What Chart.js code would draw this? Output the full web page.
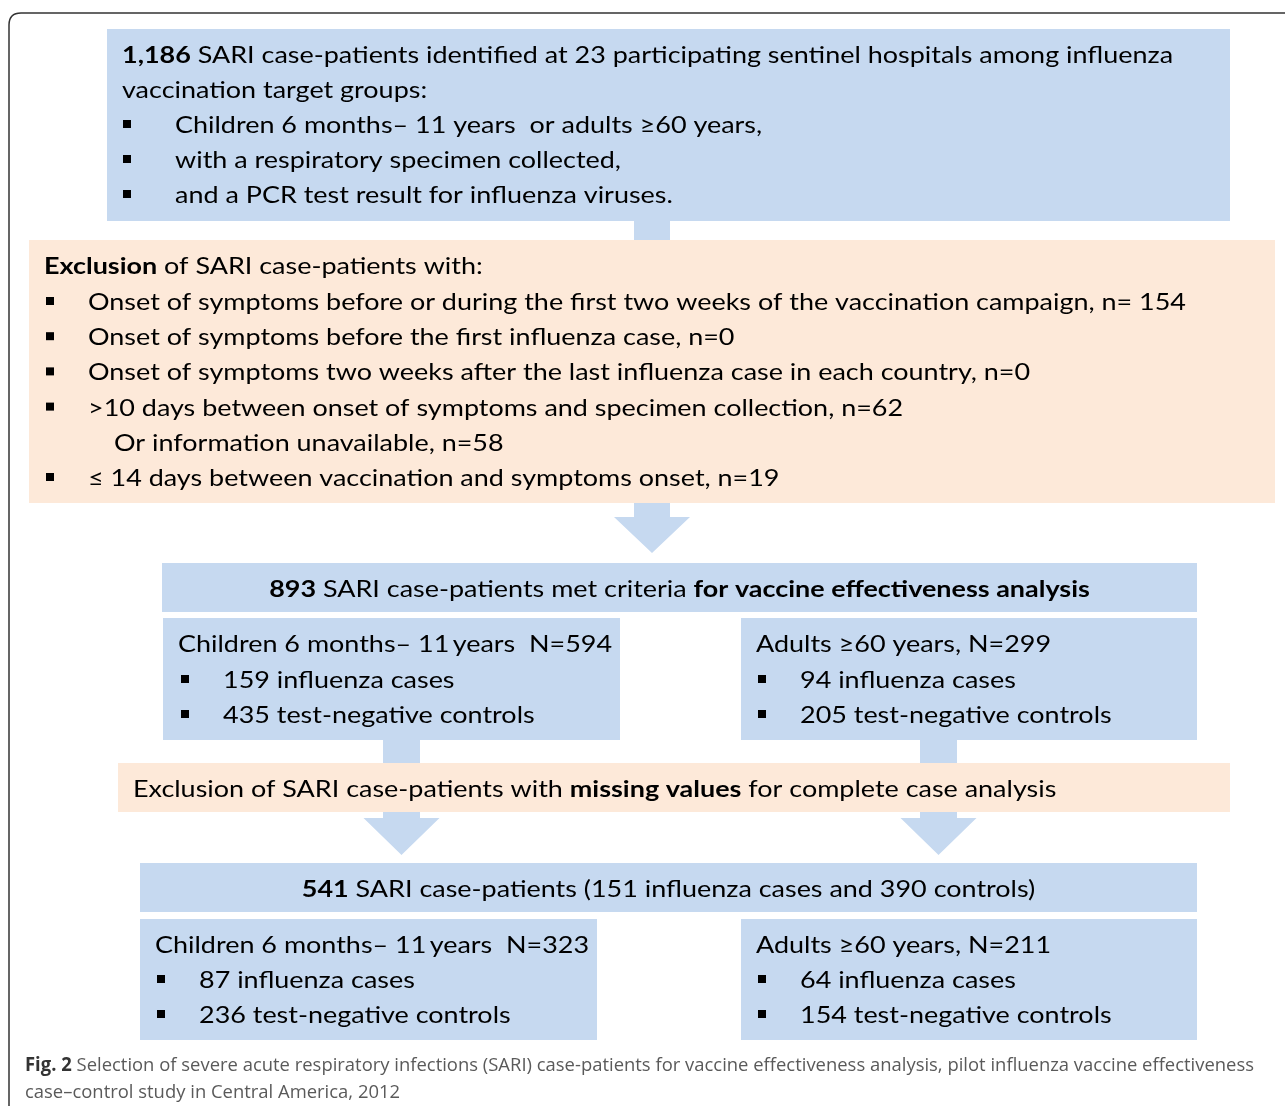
<!DOCTYPE html>
<html>
<head>
<meta charset="utf-8">
<script src="https://cdn.jsdelivr.net/npm/chart.js@4.4.1/dist/chart.umd.min.js"></script>
<style>
  html, body { margin: 0; padding: 0; background: #fff; }
  #wrap { width: 1285px; height: 1106px; position: relative; }
</style>
</head>
<body>
<div id="wrap"><canvas id="flow"></canvas></div>
<script>
// counts shown in the flow diagram
const identifiedTotal = 1186;
const hospitalCount = 23;
const targetGroups = ['Children 6 months– 11 years  or adults ≥60 years,', 'with a respiratory specimen collected,', 'and a PCR test result for influenza viruses.'];
const exclusionReasons = [
    'Onset of symptoms before or during the first two weeks of the vaccination campaign, n= ',
    'Onset of symptoms before the first influenza case, n=',
    'Onset of symptoms two weeks after the last influenza case in each country, n=',
    '>10 days between onset of symptoms and specimen collection, n=',
    'Or information unavailable, n=',
    '≤ 14 days between vaccination and symptoms onset, n='
];
const exclusionCounts = [154, 0, 0, 62, 58, 19];
const eligibleTotal = 893;
const groupLabels = ['Children 6 months– 11\u2009years  N=', 'Adults ≥60 years, N='];
const eligibleN = [594, 299];
const eligibleCases = [159, 94];
const eligibleControls = [435, 205];
const completeTotal = 541;
const completeCasesTotal = 151;
const completeControlsTotal = 390;
const completeN = [323, 211];
const completeCases = [87, 64];
const completeControls = [236, 154];

const BLUE = '#c6d9f0';
const PEACH = '#fde9d9';
const FAMILY = 'Lato';
const SIZE = 23;

// layout (in page units, mapped through the chart scales)
const boxes = [
    { x0: 107, y0: 29, x1: 1230, y1: 221, fill: BLUE },
    { x0: 29, y0: 240, x1: 1275, y1: 503, fill: PEACH },
    { x0: 162, y0: 563, x1: 1197, y1: 612, fill: BLUE },
    { x0: 163, y0: 618, x1: 620, y1: 740, fill: BLUE },
    { x0: 741, y0: 618, x1: 1197, y1: 740, fill: BLUE },
    { x0: 118, y0: 763, x1: 1230, y1: 812, fill: PEACH },
    { x0: 140, y0: 863, x1: 1197, y1: 912, fill: BLUE },
    { x0: 140, y0: 919, x1: 597, y1: 1040, fill: BLUE },
    { x0: 741, y0: 919, x1: 1197, y1: 1040, fill: BLUE }
];
const connectors = [
    { x0: 634, y0: 221, x1: 670, y1: 240 },
    { x0: 383, y0: 740, x1: 420, y1: 763 },
    { x0: 920, y0: 740, x1: 957, y1: 763 }
];
const arrows = [
    { cx: 652, top: 503, neck: 517, tip: 553, shaft: 36, head: 76 },
    { cx: 401.5, top: 812, neck: 818, tip: 855, shaft: 37, head: 76 },
    { cx: 938.5, top: 812, neck: 818, tip: 855, shaft: 37, head: 76 }
];

const fmt = n => n.toLocaleString('en-US');

// text lines: runs of [text, bold], x, baseline y, optional bullet x
const lines = [];
lines.push({ runs: [[fmt(identifiedTotal), true], [' SARI case-patients identified at ' + hospitalCount + ' participating sentinel hospitals among influenza', false]], x: 122, y: 63 });
lines.push({ runs: [['vaccination target groups:', false]], x: 122, y: 98 });
targetGroups.forEach((t, i) => lines.push({ runs: [[t, false]], x: 175, y: 133 + i * 35, bullet: 123 }));

lines.push({ runs: [['Exclusion', true], [' of SARI case-patients with:', false]], x: 44, y: 274 });
exclusionReasons.forEach((t, i) => {
    const sub = i === 4;
    lines.push({ runs: [[t + exclusionCounts[i], false]], x: sub ? 114 : 88, y: 310 + i * 35.2, bullet: sub ? null : 46 });
});

lines.push({ runs: [[String(eligibleTotal), true], [' SARI case-patients met criteria ', false], ['for vaccine effectiveness analysis', true]], x: 679.5, y: 597, align: 'center' });
[[178, 181, 223], [756, 758, 800]].forEach((c, g) => {
    lines.push({ runs: [[groupLabels[g] + eligibleN[g], false]], x: c[0], y: 652 });
    lines.push({ runs: [[eligibleCases[g] + ' influenza cases', false]], x: c[2], y: 688, bullet: c[1] });
    lines.push({ runs: [[eligibleControls[g] + ' test-negative controls', false]], x: c[2], y: 723, bullet: c[1] });
});

lines.push({ runs: [['Exclusion of SARI case-patients with ', false], ['missing values', true], [' for complete case analysis', false]], x: 133, y: 797 });

lines.push({ runs: [[String(completeTotal), true], [' SARI case-patients (' + completeCasesTotal + ' influenza cases and ' + completeControlsTotal + ' controls)', false]], x: 668.5, y: 897, align: 'center' });
[[155, 157, 199], [756, 758, 800]].forEach((c, g) => {
    lines.push({ runs: [[groupLabels[g] + completeN[g], false]], x: c[0], y: 953 });
    lines.push({ runs: [[completeCases[g] + ' influenza cases', false]], x: c[2], y: 988, bullet: c[1] });
    lines.push({ runs: [[completeControls[g] + ' test-negative controls', false]], x: c[2], y: 1023, bullet: c[1] });
});

const captionLines = [
    [['Fig. 2', true], [' Selection of severe acute respiratory infections (SARI) case-patients for vaccine effectiveness analysis, pilot influenza vaccine effectiveness', false]],
    [['case–control study in Central America, 2012', false]]
];

function runWidths(ctx, runs, size, family) {
    return runs.map(r => {
        ctx.font = (r[1] ? 'bold ' : '') + size + 'px ' + family;
        return ctx.measureText(r[0]).width;
    });
}

function drawRuns(ctx, runs, x, y, size, sx, family, colors, align) {
    const w = runWidths(ctx, runs, size, family);
    const total = w.reduce((a, b) => a + b, 0) * sx;
    const start = align === 'center' ? x - total / 2 : x;
    ctx.save();
    ctx.translate(start, y);
    ctx.scale(sx, 1);
    ctx.textBaseline = 'alphabetic';
    ctx.textAlign = 'left';
    let cx = 0;
    runs.forEach((r, i) => {
        ctx.font = (r[1] ? 'bold ' : '') + size + 'px ' + family;
        ctx.fillStyle = r[1] ? colors[1] : colors[0];
        ctx.fillText(r[0], cx, 0);
        cx += w[i];
    });
    ctx.restore();
}

const flowPlugin = {
    id: 'flowchart',
    afterDraw(chart) {
        const ctx = chart.ctx;
        const px = v => chart.scales.x.getPixelForValue(v);
        const py = v => chart.scales.y.getPixelForValue(v);

        // frame
        ctx.save();
        ctx.strokeStyle = '#333';
        ctx.lineWidth = 1.5;
        ctx.beginPath();
        ctx.moveTo(px(9), py(1106));
        ctx.lineTo(px(9), py(25));
        ctx.quadraticCurveTo(px(9), py(13), px(21), py(13));
        ctx.lineTo(px(1285), py(13));
        ctx.stroke();
        ctx.restore();

        boxes.forEach(b => {
            ctx.fillStyle = b.fill;
            ctx.fillRect(px(b.x0), py(b.y0), px(b.x1) - px(b.x0), py(b.y1) - py(b.y0));
        });
        ctx.fillStyle = BLUE;
        connectors.forEach(c => {
            ctx.fillRect(px(c.x0), py(c.y0), px(c.x1) - px(c.x0), py(c.y1) - py(c.y0));
        });
        arrows.forEach(a => {
            ctx.beginPath();
            ctx.moveTo(px(a.cx - a.shaft / 2), py(a.top));
            ctx.lineTo(px(a.cx + a.shaft / 2), py(a.top));
            ctx.lineTo(px(a.cx + a.shaft / 2), py(a.neck));
            ctx.lineTo(px(a.cx + a.head / 2), py(a.neck));
            ctx.lineTo(px(a.cx), py(a.tip));
            ctx.lineTo(px(a.cx - a.head / 2), py(a.neck));
            ctx.lineTo(px(a.cx - a.shaft / 2), py(a.neck));
            ctx.closePath();
            ctx.fill();
        });

        // horizontal squeeze so the font matches the original's letter widths
        const ref = runWidths(ctx, [[exclusionReasons[0] + exclusionCounts[0], false]], SIZE, FAMILY)[0];
        const sx = 1098 / ref;
        lines.forEach(l => {
            drawRuns(ctx, l.runs, px(l.x), py(l.y), SIZE, sx, FAMILY, ['#000', '#000'], l.align);
            if (l.bullet != null) {
                ctx.fillStyle = '#000';
                ctx.fillRect(px(l.bullet), py(l.y - 13), 8, 8);
            }
        });

        const capFamily = 'Open Sans';
        const capSize = 19;
        const capRef = runWidths(ctx, captionLines[0], capSize, capFamily).reduce((a, b) => a + b, 0);
        const csx = 1229 / capRef;
        drawRuns(ctx, captionLines[0], px(25), py(1071), capSize, csx, capFamily, ['#5a5a5a', '#333']);
        drawRuns(ctx, captionLines[1], px(25), py(1098), capSize, csx, capFamily, ['#5a5a5a', '#333']);
    }
};

function build() {
    new Chart(document.getElementById('flow'), {
        type: 'scatter',
        data: { datasets: [] },
        options: {
            responsive: true,
            maintainAspectRatio: false,
            animation: false,
            layout: { padding: 0 },
            plugins: { legend: { display: false }, tooltip: { enabled: false } },
            scales: {
                x: { type: 'linear', min: 0, max: 1285, display: false },
                y: { type: 'linear', min: 0, max: 1106, reverse: true, display: false }
            }
        },
        plugins: [flowPlugin]
    });
}

Promise.all([
    document.fonts.load('23px Lato'),
    document.fonts.load('bold 23px Lato'),
    document.fonts.load('19px "Open Sans"'),
    document.fonts.load('bold 19px "Open Sans"')
]).then(build, build);
</script>
</body>
</html>
